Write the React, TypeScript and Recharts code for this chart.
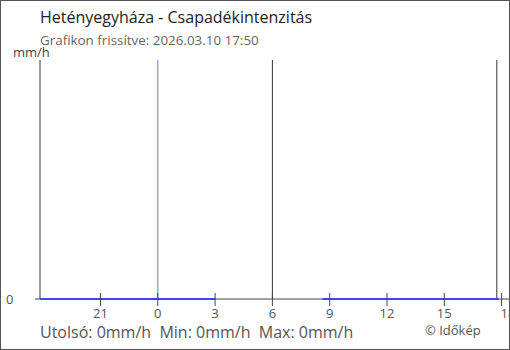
import { Line, LineChart, ReferenceLine, XAxis, YAxis } from 'recharts';

// x = hour of day, continuing past midnight (24 = 0:00 next day)
const hours   = [17.833, 27.0, 27.01, 32.62, 41.85];
const rain    = [0, 0, null, 0, 0];
const xTicks  = [21, 24, 27, 30, 33, 36, 39, 42];
const yTicks  = [0];
const marks   = [
  { at: 24, color: '#4a8fd0' },
  { at: 30, color: '#333' },
  { at: 41.75, color: '#333' },
];

const data = hours.map((t, i) => ({ t, v: rain[i] }));

const FONT = '"Open Sans", "Noto Sans", sans-serif';

function XTick({ x, y, payload, index }: any) {
  const last = index === xTicks.length - 1;
  return (
    <g>
      <line x1={x} x2={x} y1={y - 6} y2={y + 7} stroke="#444" />
      <text
        x={last ? x - 1 : x}
        y={y + 19}
        textAnchor={last ? 'start' : 'middle'}
        fontSize={13}
        fill="#555"
        fontFamily={FONT}
      >
        {payload.value % 24}
      </text>
    </g>
  );
}

function YTick({ y, payload }: any) {
  return (
    <text x={6} y={y + 5} fontSize={13} fill="#555" fontFamily={FONT}>
      {payload.value}
    </text>
  );
}

export default function App() {
  return (
    <div style={{ position: 'absolute', left: 0, top: 0, width: 510, height: 350, fontFamily: FONT, overflow: 'hidden' }}>
      <div style={{ position: 'absolute', left: 40, top: 6, fontSize: 16, color: '#222', whiteSpace: 'nowrap' }}>
        Hetényegyháza - Csapadékintenzitás
      </div>
      <div style={{ position: 'absolute', left: 40, top: 31, fontSize: 13.4, color: '#666', whiteSpace: 'nowrap' }}>
        Grafikon frissítve: 2026.03.10 17:50
      </div>
      <div style={{ position: 'absolute', left: 13, top: 43, fontSize: 13, color: '#444' }}>mm/h</div>
      <LineChart width={510} height={350} data={data} margin={{ top: 60, right: 0, bottom: 0, left: 0 }}>
        <XAxis
          dataKey="t"
          type="number"
          domain={[17.833, 42.44]}
          ticks={xTicks}
          interval={0}
          allowDataOverflow
          height={51}
          tickLine={false}
          tickSize={0}
          tickMargin={0}
          axisLine={{ stroke: '#444' }}
          tick={<XTick />}
        />
        <YAxis
          domain={[0, 1]}
          ticks={yTicks}
          width={40}
          tickSize={5}
          axisLine={{ stroke: '#333' }}
          tickLine={{ stroke: '#444' }}
          tick={<YTick />}
        />
        {marks.map((m) => (
          <ReferenceLine key={m.at} x={m.at} stroke={m.color} />
        ))}
        <Line
          dataKey="v"
          stroke="#4444ff"
          strokeWidth={2}
          dot={false}
          connectNulls={false}
          isAnimationActive={false}
          {...({ zIndex: 1500 } as any)}
        />
      </LineChart>
      <div style={{ position: 'absolute', left: 40, top: 321, fontSize: 16, color: '#555', whiteSpace: 'pre' }}>
        Utolsó: 0mm/h  Min: 0mm/h  Max: 0mm/h
      </div>
      <div style={{ position: 'absolute', left: 425, top: 321, fontSize: 13, color: '#555' }}>© Időkép</div>
      <div style={{ position: 'absolute', inset: 0, border: '1px solid #555', boxSizing: 'border-box', pointerEvents: 'none' }} />
    </div>
  );
}
